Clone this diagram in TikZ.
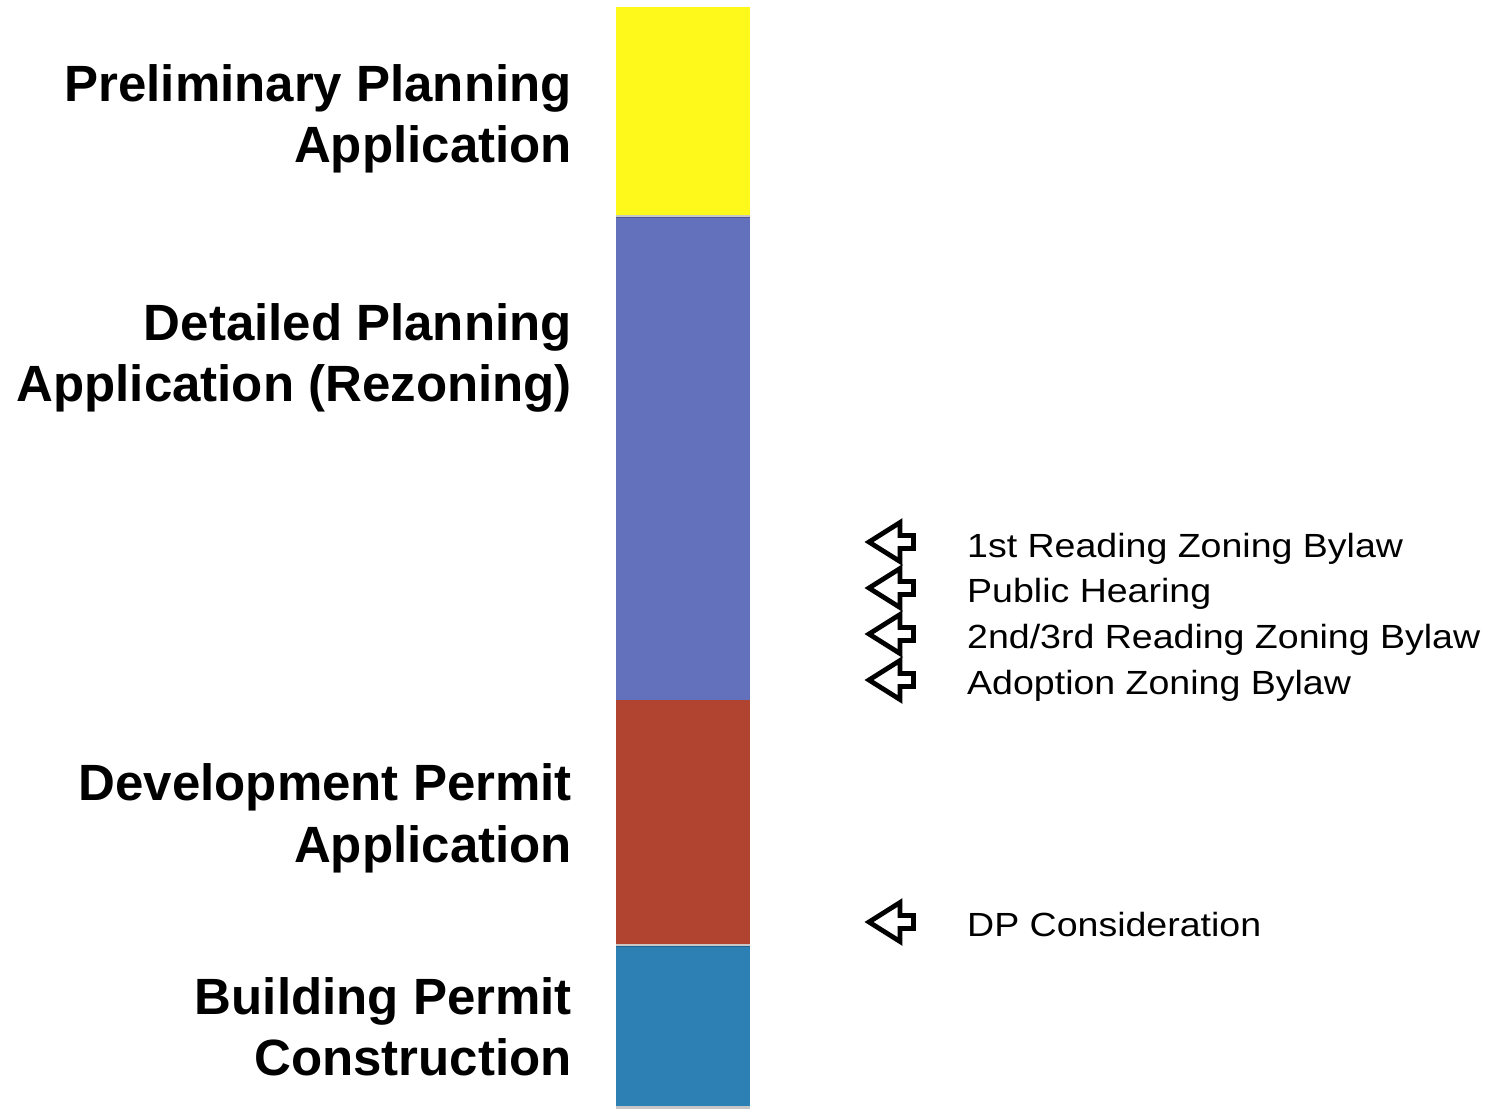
\documentclass[tikz,border=0pt]{standalone}
\usepackage{fontspec}
\setmainfont{Liberation Sans}
\newfontfamily\lightfont[FakeStretch=1.12]{Liberation Sans}
\usetikzlibrary{shadows}
\definecolor{cyel}{HTML}{FEF91A}
\definecolor{cblu}{HTML}{6371BC}
\definecolor{cred}{HTML}{B04431}
\definecolor{cteal}{HTML}{2C80B3}
\tikzset{
  seg/.style={draw=none, drop shadow={shadow xshift=0pt, shadow yshift=-2.5pt, fill=black, opacity=0.22}},
  stage/.style={anchor=base east, inner sep=0pt, font=\bfseries\fontsize{51}{61}\selectfont},
  event/.style={anchor=base west, inner sep=0pt, font=\lightfont\fontsize{33.5}{40}\selectfont},
  larrow/.pic={\draw[line width=4.8pt, miter limit=10] (-21,0) -- (10,-19.5) -- (10,-6.5) -- (23.5,-6.5) -- (23.5,6.5) -- (10,6.5) -- (10,19.5) -- cycle;}
}
\begin{document}
\begin{tikzpicture}[x=1pt,y=-1pt]
\useasboundingbox[fill=white] (0,0) rectangle (1490,1108);
% bar segments
\fill[cteal, seg] (616,946) rectangle (750,1106);
\fill[cblu, seg] (616,217) rectangle (750,701);
\fill[cred, seg] (616,700) rectangle (750,944);
\fill[cyel, seg] (616,7) rectangle (750,215);
% stage labels
\node[stage] (pp1) at (572,101) {Preliminary Planning};
\node[stage] (pp2) at (572,162) {Application};
\node[stage] (dp1) at (572,340) {Detailed Planning};
\node[stage] (dp2) at (572,401) {Application (Rezoning)};
\node[stage] (dv1) at (572,800) {Development Permit};
\node[stage] (dv2) at (572,862) {Application};
\node[stage] (bp1) at (572,1014) {Building Permit};
\node[stage] (bp2) at (572,1075) {Construction};
% event arrows
\pic at (890,542) {larrow};
\pic at (890,588) {larrow};
\pic at (890,634) {larrow};
\pic at (890,680) {larrow};
\pic at (890,922) {larrow};
% event labels
\node[event] (e1) at (967,557) {1st Reading Zoning Bylaw};
\node[event] (e2) at (967,602) {Public Hearing};
\node[event] (e3) at (967,648) {2nd/3rd Reading Zoning Bylaw};
\node[event] (e4) at (967,694) {Adoption Zoning Bylaw};
\node[event] (e5) at (967,936) {DP Consideration};
\end{tikzpicture}
\end{document}
